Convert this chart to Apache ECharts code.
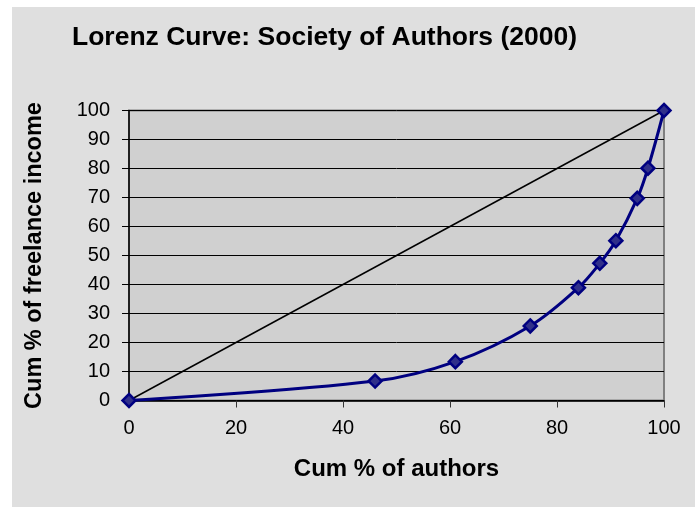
<!DOCTYPE html>
<html>
<head>
<meta charset="utf-8">
<script src="https://cdn.jsdelivr.net/npm/echarts@6/dist/echarts.min.js"></script>
<style>
html,body{margin:0;padding:0;background:#fff;}
#c{width:695px;height:507px;}
</style>
</head>
<body>
<div id="c"></div>
<script>
// Data
const titleText = "Lorenz Curve: Society of Authors (2000)";
const xAxisName = "Cum % of authors";
const yAxisName = "Cum % of freelance income";
const cumAuthors = [0, 46, 61, 75, 84, 88, 91, 95, 97, 100];
const cumIncome = [0, 6.7, 13.4, 25.7, 38.9, 47.3, 55.1, 69.7, 80.1, 100];
const equalityX = [0, 100];
const equalityY = [0, 100];

const lorenzData = cumAuthors.map((x, i) => [x, cumIncome[i]]);
const equalityData = equalityX.map((x, i) => [x, equalityY[i]]);

const font = "Arial, 'Liberation Sans', sans-serif";
const chart = echarts.init(document.getElementById('c'), null, {renderer: 'canvas'});
chart.setOption({
  backgroundColor: '#ffffff',
  animation: false,
  graphic: [{
    type: 'rect', z: -10, silent: true,
    shape: {x: 12, y: 7, width: 683, height: 500},
    style: {fill: '#dfdfdf'}
  }],
  title: {
    text: titleText,
    left: 67, top: 19,
    textStyle: {fontFamily: font, fontSize: 26.5, fontWeight: 'bold', color: '#000'}
  },
  grid: {
    left: 129, right: 31, top: 110.5, bottom: 106.5,
    show: true, backgroundColor: '#d0d0d0', borderColor: '#808080', borderWidth: 2
  },
  xAxis: {
    type: 'value', min: 0, max: 100, interval: 20,
    name: xAxisName, nameLocation: 'middle', nameGap: 57,
    nameTextStyle: {fontFamily: font, fontSize: 24, fontWeight: 'bold', color: '#000'},
    axisLine: {show: true, onZero: false, lineStyle: {color: '#000', width: 1.5}},
    axisTick: {show: true, length: 7, lineStyle: {color: '#333', width: 1}},
    axisLabel: {fontFamily: font, fontSize: 20, color: '#000', margin: 18},
    splitLine: {show: false}
  },
  yAxis: {
    type: 'value', min: 0, max: 100, interval: 10,
    name: yAxisName, nameLocation: 'middle', nameGap: 82, nameRotate: 90,
    nameTextStyle: {fontFamily: font, fontSize: 23.5, fontWeight: 'bold', color: '#000'},
    axisLine: {show: true, onZero: false, lineStyle: {color: '#000', width: 1.5}},
    axisTick: {show: true, length: 7, lineStyle: {color: '#000', width: 1}},
    axisLabel: {fontFamily: font, fontSize: 20, color: '#000', margin: 19},
    splitLine: {show: true, lineStyle: {color: '#000', width: 1}}
  },
  series: [
    {
      type: 'line', data: equalityData, symbol: 'none', z: 2,
      lineStyle: {color: '#000', width: 1.5}
    },
    {
      type: 'line', data: lorenzData, smooth: 0.35, z: 3,
      symbol: 'diamond', symbolSize: 13,
      lineStyle: {color: '#000080', width: 3},
      itemStyle: {color: '#30308a', borderColor: '#000080', borderWidth: 2.5}
    }
  ]
});
</script>
</body>
</html>
